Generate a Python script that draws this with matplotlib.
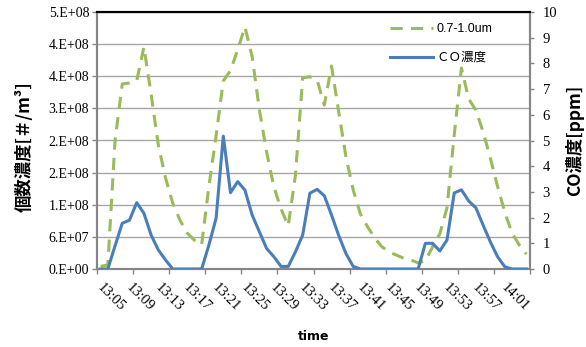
import matplotlib
matplotlib.use('Agg')
import matplotlib.pyplot as plt
from matplotlib.lines import Line2D
from matplotlib.transforms import ScaledTranslation
import numpy as np

# ---- data -------------------------------------------------------------
times = ["13:05", "13:06", "13:07", "13:08", "13:09", "13:10", "13:11", "13:12", "13:13", "13:14",
         "13:15", "13:16", "13:17", "13:18", "13:19", "13:20", "13:21", "13:22", "13:23", "13:24",
         "13:25", "13:26", "13:27", "13:28", "13:29", "13:30", "13:31", "13:32", "13:33", "13:34",
         "13:35", "13:36", "13:37", "13:38", "13:39", "13:40", "13:41", "13:42", "13:43", "13:44",
         "13:45", "13:46", "13:47", "13:48", "13:49", "13:50", "13:51", "13:52", "13:53", "13:54",
         "13:55", "13:56", "13:57", "13:58", "13:59", "14:00", "14:01", "14:02", "14:03", "14:04"]

particle = [5.0e6, 8.0e6, 2.50e8, 3.60e8, 3.62e8, 3.66e8, 4.32e8, 3.40e8, 2.41e8, 1.77e8,
            1.28e8, 9.5e7, 7.0e7, 5.6e7, 4.7e7, 1.60e8, 2.59e8, 3.66e8, 3.86e8, 4.27e8,
            4.71e8, 4.13e8, 3.10e8, 2.28e8, 1.60e8, 1.17e8, 8.4e7, 1.83e8, 3.72e8, 3.74e8,
            3.68e8, 3.19e8, 3.95e8, 3.05e8, 2.18e8, 1.54e8, 1.07e8, 8.2e7, 6.0e7, 4.3e7,
            3.3e7, 2.7e7, 2.1e7, 1.75e7, 1.2e7, 1.6e7, 4.3e7, 6.8e7, 1.19e8, 2.61e8,
            3.91e8, 3.31e8, 3.09e8, 2.67e8, 2.16e8, 1.61e8, 1.11e8, 7.0e7, 4.7e7, 2.9e7]

co = [0, 0, 0.90, 1.78, 1.90, 2.58, 2.17, 1.32, 0.74, 0.35,
      0, 0, 0, 0, 0, 0.93, 1.97, 5.17, 2.97, 3.40,
      3.07, 2.10, 1.45, 0.80, 0.48, 0.10, 0.10, 0.67, 1.32, 2.95,
      3.10, 2.85, 2.10, 1.30, 0.60, 0.10, 0, 0, 0, 0,
      0, 0, 0, 0, 0, 1.00, 1.00, 0.70, 1.13, 2.96,
      3.08, 2.65, 2.38, 1.71, 1.06, 0.48, 0.09, 0, 0, 0]

left_tick_labels = ["0.E+00", "6.E+07", "1.E+08", "2.E+08", "2.E+08",
                    "3.E+08", "4.E+08", "4.E+08", "5.E+08"]
right_tick_labels = [str(v) for v in range(0, 11)]

series_names = ["0.7-1.0um", "ＣＯ濃度"]

# ---- style -----------------------------------------------------------
GREEN = '#9BBB59'
BLUE = '#4A7EBB'
AXC = '#868686'
GRID = '#a6a6a6'
SERIF = 'Liberation Serif'
CJK = ['Noto Sans CJK JP', 'DejaVu Sans']

W, H = 586, 347
fig = plt.figure(figsize=(W / 100, H / 100), dpi=100)
L, R, T, B = 97, 530, 12, 269
ax = fig.add_axes([L / W, 1 - B / H, (R - L) / W, (B - T) / H])

x = np.arange(len(times))
ln1, = ax.plot(x, particle, color=GREEN, lw=2.2, dashes=(4, 2.7),
               dash_capstyle='butt', zorder=3)
ax.set_xlim(-0.5, len(times) - 0.5)
ax.set_ylim(0, 5e8)
ax.set_yticks(np.linspace(0, 5e8, len(left_tick_labels)))
ax.set_yticklabels(left_tick_labels, fontfamily=SERIF, fontsize=10)
ax.grid(axis='y', color=GRID, lw=1.0, zorder=0)
ax.set_axisbelow(True)

# x ticks: marks every 5 categories (boundaries), labels every 4
ax.set_xticks(np.arange(-0.5, len(times), 5))
ax.set_xticklabels([])
ax.set_xticks(x[::4], minor=True)
ax.set_xticklabels(times[::4], minor=True, rotation=-45, ha='left', va='top',
                   rotation_mode='anchor', fontfamily=SERIF, fontsize=10.5)
ax.tick_params(axis='x', which='major', direction='out', length=3.6, width=1.0, color=AXC)
ax.tick_params(axis='x', which='minor', length=0, pad=8.5)
ax.tick_params(axis='y', direction='out', length=3.6, width=1.0, color=AXC, pad=2)
shift = ScaledTranslation(3 / 100, 0, fig.dpi_scale_trans)
for lbl in ax.get_xticklabels(minor=True):
    lbl.set_transform(lbl.get_transform() + shift)

ax2 = ax.twinx()
ln2, = ax2.plot(x, co, color=BLUE, lw=2.2, solid_joinstyle='round', zorder=4)
ax2.set_ylim(0, 10)
ax2.set_yticks(range(0, 11))
ax2.set_yticklabels(right_tick_labels, fontfamily=SERIF, fontsize=10.5)
ax2.tick_params(axis='y', direction='out', length=3.0, width=1.0, color=AXC, pad=6)

for a in (ax, ax2):
    for s in a.spines.values():
        s.set_linewidth(1.5)
        s.set_color(AXC)
    a.spines['top'].set_color('black')

ax.set_ylabel('個数濃度[＃/m³]', fontfamily=CJK, fontweight='bold', fontsize=12.5)
ax.yaxis.set_label_coords(-0.146, 0.475)
ax2.set_ylabel('CO濃度[ppm]', fontfamily=CJK, fontweight='bold', fontsize=12.5)
ax2.yaxis.set_label_coords(1.081, 0.502)
ax.set_xlabel('time', fontfamily='DejaVu Sans', fontweight='bold', fontsize=9)
ax.xaxis.set_label_coords(0.5, -0.237)

h1 = Line2D([], [], color=GREEN, lw=2.2, dashes=(4, 2.7), dash_capstyle='butt')
h2 = Line2D([], [], color=BLUE, lw=2.2)
leg = ax2.legend([h1, h2], series_names, loc='upper left',
                 bbox_to_anchor=(390 / W, 1 - 23 / H), bbox_transform=fig.transFigure,
                 frameon=False, borderpad=0, borderaxespad=0, handlelength=3.4,
                 handletextpad=0.3, labelspacing=1.35,
                 prop={'family': ['Liberation Sans', 'Noto Sans CJK JP'], 'size': 9})

fig.savefig('out.png', dpi=100)
